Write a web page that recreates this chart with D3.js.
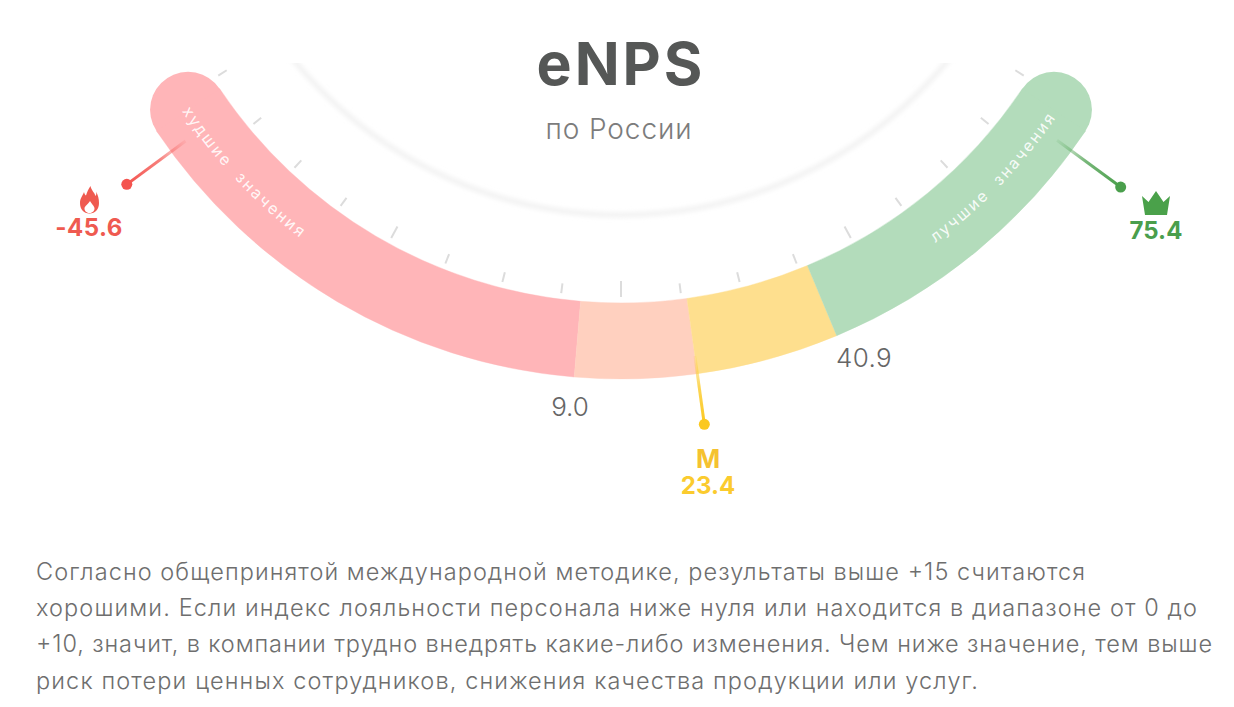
<!DOCTYPE html>
<html><head><meta charset="utf-8">
<script src="https://cdn.jsdelivr.net/npm/d3@7/dist/d3.min.js"></script>
<style>html,body{margin:0;padding:0;background:#fff}svg{display:block}</style>
</head><body><svg id="c" width="1234" height="707"></svg>
<script>
const title = "eNPS", subtitle = "по России";
const minVal = -45.6, q1 = 9.0, median = 23.4, q3 = 40.9, maxVal = 75.4;
const bandBreaks = [minVal, q1, median, q3, maxVal];
const bandBreakDegrees = [-53.6, -4.8, 7.85, 22.7, 53.7];
const bandColors = ["#ffb5b8", "#ffd0bf", "#fedf8e", "#b3dcbb"];
const tickSteps = [-8,-7,-6,-5,-4,-3,-2,-1,0,1,2,3,4,5,6,7,8];
const bodyLines = [
 "Согласно общепринятой международной методике, результаты выше +15 считаются",
 "хорошими. Если индекс лояльности персонала ниже нуля или находится в диапазоне от 0 до",
 "+10, значит, в компании трудно внедрять какие-либо изменения. Чем ниже значение, тем выше",
 "риск потери ценных сотрудников, снижения качества продукции или услуг."
];
const bodyWidths = [1049, 1161, 1176, 942];
const font = "Inter, 'Noto Sans', sans-serif";

const svg = d3.select("#c");
const cx = 621, cy = -180, rIn = 483, rOut = 559;
const rad = d => d * Math.PI / 180;
const ang = d3.scaleLinear().domain(bandBreaks).range(bandBreakDegrees.map(rad));
const capAngle = rad(56.2);
const tickAng = d3.scaleLinear().domain([-8, 8]).range([rad(-57.6), rad(57.6)]);
const g = svg.append("g").attr("transform", `translate(${cx},${cy})`);
const at = (a, r) => [r * Math.sin(a), r * Math.cos(a)];

const defs = svg.append("defs");
defs.append("filter").attr("id","soft").attr("x","-10%").attr("y","-10%").attr("width","120%").attr("height","120%")
  .append("feGaussianBlur").attr("stdDeviation",2.6);
defs.append("filter").attr("id","fine").attr("x","-5%").attr("y","-5%").attr("width","110%").attr("height","110%")
  .append("feGaussianBlur").attr("stdDeviation",0.45);
defs.append("clipPath").attr("id","top").append("rect").attr("x",0).attr("y",63).attr("width",1234).attr("height",300);

// inner soft ring
svg.append("g").attr("clip-path","url(#top)")
  .append("circle").attr("cx",cx).attr("cy",-208).attr("r",423)
  .attr("fill","none").attr("stroke","#eeeeee").attr("stroke-width",4).attr("filter","url(#soft)");

const art = g.append("g").attr("filter","url(#fine)");

// tick marks
art.selectAll("line.t").data(tickSteps).join("line").attr("class","t")
  .each(function(d){
    const a = tickAng(d), len = d === 0 ? 16 : (Math.abs(d) === 4 ? 13 : 10);
    const p0 = at(a, 477), p1 = at(a, 477 - len);
    d3.select(this).attr("x1",p0[0]).attr("y1",p0[1]).attr("x2",p1[0]).attr("y2",p1[1]);
  })
  .attr("stroke","#dcdcdc").attr("stroke-width",2);

// end caps
const arc = d3.arc().innerRadius(rIn).outerRadius(rOut);
const rMid = (rIn + rOut) / 2;
[[-capAngle, bandColors[0]], [capAngle, bandColors[3]]].forEach(([a, col]) => {
  const p = at(a, rMid);
  art.append("circle").attr("cx",p[0]).attr("cy",p[1]).attr("r",(rOut-rIn)/2).attr("fill",col);
});

// bands
const segs = d3.pairs(bandBreaks).map((p,i) => ({
  a0: i === 0 ? -capAngle : ang(p[0]),
  a1: i === 3 ? capAngle : ang(p[1]),
  col: bandColors[i]
}));
art.selectAll("path.b").data(segs).join("path").attr("class","b")
  .attr("d", d => arc({startAngle: Math.PI - d.a0, endAngle: Math.PI - d.a1}))
  .attr("fill", d => d.col).attr("stroke", d => d.col).attr("stroke-width",0.4);

// pointers
const grads = [
  {id:"gl", v:minVal, col:"#f4544f", r:614},
  {id:"gm", v:median, col:"#fbc81f", r:610},
  {id:"gr", v:maxVal, col:"#4a9f4c", r:620}
];
grads.forEach(o => {
  const a = ang(o.v), s = at(a, 541), e = at(a, o.r);
  const lg = defs.append("linearGradient").attr("id",o.id).attr("gradientUnits","userSpaceOnUse")
    .attr("x1",s[0]+cx).attr("y1",s[1]+cy).attr("x2",e[0]+cx).attr("y2",e[1]+cy);
  lg.append("stop").attr("offset",0).attr("stop-color",o.col).attr("stop-opacity",0.1);
  lg.append("stop").attr("offset",0.45).attr("stop-color",o.col).attr("stop-opacity",0.75);
  lg.append("stop").attr("offset",1).attr("stop-color",o.col);
  svg.append("line").attr("x1",s[0]+cx).attr("y1",s[1]+cy).attr("x2",e[0]+cx+0.01).attr("y2",e[1]+cy+0.01)
    .attr("stroke",`url(#${o.id})`).attr("stroke-width",3);
  svg.append("circle").attr("cx",e[0]+cx).attr("cy",e[1]+cy).attr("r",5.5).attr("fill",o.col);
});

// curved captions
const curved = [
  {id:"cl", text:"худшие  значения", mid:-46.9},
  {id:"cr", text:"лучшие  значения", mid:46.2}
];
const rText = 527;
curved.forEach(o => {
  const span = 30, p = d3.path();
  p.arc(cx, cy, rText, Math.PI/2 - rad(o.mid - span), Math.PI/2 - rad(o.mid + span), true);
  defs.append("path").attr("id",o.id).attr("d",p.toString());
  svg.append("text").attr("font-family",font).attr("font-size",16).attr("letter-spacing",2.2)
    .attr("fill","#fff").attr("fill-opacity",0.9).attr("text-anchor","middle").attr("xml:space","preserve")
    .append("textPath").attr("href","#"+o.id).attr("startOffset","50%").text(o.text);
});

// title
svg.append("text").attr("x",621).attr("y",85).attr("text-anchor","middle").attr("letter-spacing",3)
  .attr("font-family",font).attr("font-weight",700).attr("font-size",59).attr("fill","#555756").text(title);
svg.append("text").attr("x",619).attr("y",139).attr("text-anchor","middle").attr("letter-spacing",0.9)
  .attr("font-family",font).attr("font-weight",300).attr("font-size",28).attr("fill","#7c7c7c").text(subtitle);

const fmt = d3.format(".1f");
const label = (x,y,t,size,weight,col,sp) => svg.append("text").attr("x",x).attr("y",y).attr("text-anchor","middle")
  .attr("letter-spacing",sp||0).attr("font-family",font).attr("font-size",size).attr("font-weight",weight).attr("fill",col).text(t);
label(89,236,fmt(minVal).replace("\u2212","-"),24,700,"#ef5a50",0.5);
label(1156,239,fmt(maxVal),24,700,"#4a9e4c");
label(570,416,fmt(q1),26,300,"#666");
label(864,367,fmt(q3),26,300,"#666",0.3);
label(708,468,"М",26,700,"#f5c230");
label(708,494,fmt(median),24,700,"#fbcb2e");

// icons
svg.append("path").attr("transform","translate(89.5,200)").attr("fill","#ef5a50").attr("fill-rule","evenodd")
  .attr("d","M1-14C2-9 5-8 6-4 7-5 7-7 6.500-8.500 8.500-5 9.500-1 9.500 3 9.500 9 6 13.500 0 13.500-6 13.500-9.500 9-9.500 3-9.500-2-7-4-5.500-8-5-6-4.500-5-3.500-4.500-2.500-8-1-11 1-14ZM0 13C3.500 13 5 10.500 5 8.500 5 6 2 4 .5 1-1 4-5 6-5 8.500-5 10.500-3.500 13 0 13Z");
svg.append("path").attr("transform","translate(1156,203)").attr("fill","#4aa14a")
  .attr("d","M-14-7-7.500-1-.0-12 7.500-1 14-7 11 12-11 12Z");

// body
svg.append("g").selectAll("text").data(bodyLines).join("text")
  .attr("x",36).attr("y",(d,i)=>[580,616,652,689][i])
  .attr("textLength",(d,i)=>bodyWidths[i]).attr("lengthAdjust","spacing")
  .attr("font-family",font).attr("font-weight",300).attr("font-size",23.5).attr("fill","#6e6e6e").text(d=>d);
</script></body></html>
